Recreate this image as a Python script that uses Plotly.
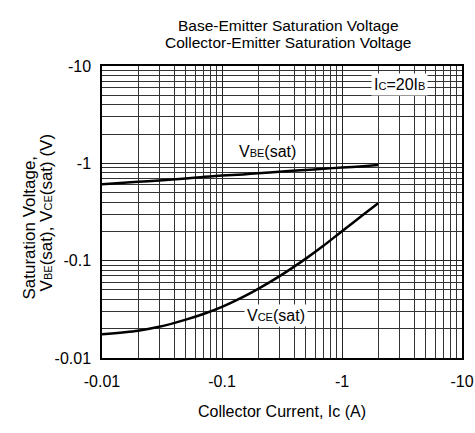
import plotly.graph_objects as go

# Data (magnitudes; labels are shown with negative sign as in the datasheet)
ic = [0.01, 0.02, 0.03, 0.05, 0.07, 0.1, 0.15, 0.2, 0.3, 0.5, 0.7, 1.0, 1.5, 2.0]
vbe_sat = [0.61, 0.645, 0.665, 0.70, 0.725, 0.75, 0.77, 0.79, 0.82, 0.855, 0.88, 0.905, 0.935, 0.96]
vce_sat = [0.0175, 0.0191, 0.0209, 0.0248, 0.0283, 0.0335, 0.0424, 0.0513, 0.069, 0.105, 0.142, 0.201, 0.296, 0.39]

tick_vals = [0.01, 0.1, 1, 10]
tick_text = ["-0.01", "-0.1", "-1", "-10"]
minor_vals = [k * 10.0 ** e for e in (-2, -1, 0) for k in range(2, 10)]

FONT = "Arial, 'Liberation Sans', Helvetica, sans-serif"
SMALL = "<span style='font-size:11px'>{}</span>"

fig = go.Figure()
for yv in (vbe_sat, vce_sat):
    fig.add_trace(go.Scatter(x=ic, y=yv, mode="lines",
                             line=dict(color="black", width=2.5, shape="spline", smoothing=0.8),
                             showlegend=False, hoverinfo="skip"))

axis_common = dict(
    type="log",
    automargin=False,
    tickmode="array",
    tickvals=tick_vals,
    ticktext=tick_text,
    showgrid=True,
    gridcolor="#222222",
    gridwidth=1,
    showline=True,
    linecolor="black",
    linewidth=1.5,
    mirror=True,
    zeroline=False,
    ticks="",
    tickfont=dict(family=FONT, size=16, color="black"),
    minor=dict(tickvals=minor_vals, showgrid=True, gridcolor="#333333", gridwidth=1, ticks=""),
)

fig.update_xaxes(range=[-2, 1], ticklabelstandoff=8, **axis_common)
fig.update_yaxes(range=[-2, 1], ticklabelstandoff=6, **axis_common)

annots = [
    dict(x=-0.617, y=0.117, xref="x", yref="y", text="V" + SMALL.format("BE") + "(sat)"),
    dict(x=0.475, y=0.81, xref="x", yref="y", text="I" + SMALL.format("C") + "=20I" + SMALL.format("B")),
    dict(x=-0.55, y=-1.56, xref="x", yref="y", text="V" + SMALL.format("CE") + "(sat)"),
]
for a in annots:
    fig.add_annotation(showarrow=False, bgcolor="white", borderpad=2,
                       font=dict(family=FONT, size=16, color="black"), **a)

# Titles
fig.add_annotation(x=0.517, y=1.1747, xref="paper", yref="paper", showarrow=False,
                   text="Base-Emitter Saturation Voltage", font=dict(family=FONT, size=15.5, color="black"))
fig.add_annotation(x=0.517, y=1.1164, xref="paper", yref="paper", showarrow=False,
                   text="Collector-Emitter Saturation Voltage", font=dict(family=FONT, size=15.5, color="black"))
fig.add_annotation(x=0.5, y=-0.218, xref="paper", yref="paper", showarrow=False,
                   text="Collector Current, Ic (A)", font=dict(family=FONT, size=16, color="black"))
fig.add_annotation(x=-0.2333, y=0.445, xref="paper", yref="paper", showarrow=False, textangle=-90,
                   text="Saturation Voltage,", font=dict(family=FONT, size=17, color="black"))
fig.add_annotation(x=-0.1861, y=0.497, xref="paper", yref="paper", showarrow=False, textangle=-90,
                   text="V" + SMALL.format("BE") + "(sat), V" + SMALL.format("CE") + "(sat) (V)",
                   font=dict(family=FONT, size=17, color="black"))

fig.update_layout(
    width=475, height=433,
    margin=dict(l=102, r=13, t=66, b=75),
    paper_bgcolor="white", plot_bgcolor="white",
    showlegend=False,
    hovermode=False,
)

# remove the default page margin so the figure sits at the window's top-left corner
fig.write_html("out.html", config={"displayModeBar": False},
               post_script="document.body.style.margin='0';document.body.style.overflow='hidden';")
